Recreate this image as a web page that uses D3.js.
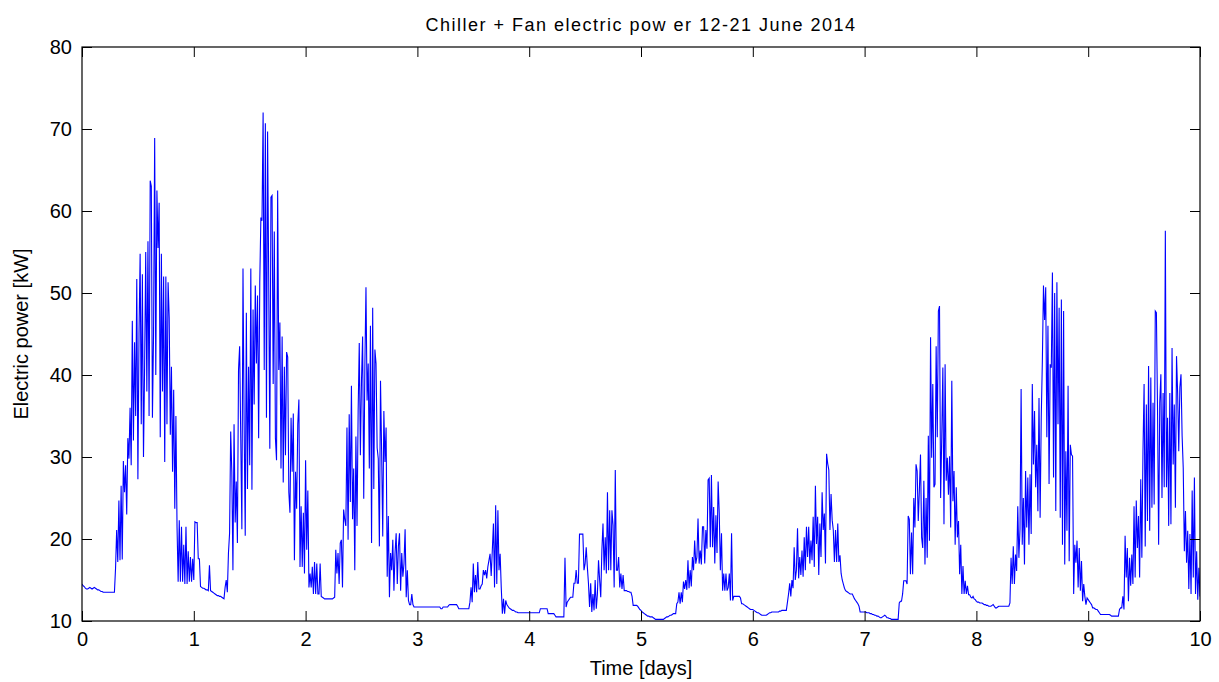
<!DOCTYPE html>
<html>
<head>
<meta charset="utf-8">
<script src="https://cdn.jsdelivr.net/npm/d3@7"></script>
<style>
  html, body { margin: 0; padding: 0; background: #fff; }
  svg { display: block; }
  text { font-family: "Liberation Sans", Arial, Helvetica, sans-serif; fill: #000; }
</style>
</head>
<body>
<svg id="chart" width="1219" height="682"></svg>
<script>
// ---------------- data ----------------
const titleText = "Chiller + Fan electric pow er 12-21 June 2014";
const xLabelText = "Time [days]";
const yLabelText = "Electric power [kW]";
const xTicks = [0, 1, 2, 3, 4, 5, 6, 7, 8, 9, 10];
const yTicks = [10, 20, 30, 40, 50, 60, 70, 80];
const samplesPerDay = 100;   // one sample every 0.01 day

const day0 = [14.5,14.3,14.2,14.0,13.9,13.9,14.0,14.1,14.0,13.9,
14.0,14.1,14.0,13.9,13.8,13.8,13.7,13.6,13.6,13.5,
13.5,13.5,13.5,13.5,13.5,13.5,13.5,13.5,13.5,13.5,
16.4,21.1,17.2,24.7,17.4,26.5,17.5,29.5,25.7,29,
23,32.3,29.8,36,29,46.6,32,44,35,51.7,
27.3,45,54.8,34,52.3,30,41,55,38,56.3,
35,63.7,63,34.8,45,68.9,40,62.5,55.5,61,
32.4,54.8,38,52,29.4,52,34,51.3,47,32.7,
41,28.2,38.2,23.7,35,21.5,14.8,22.3,14.8,21.5,
14.8,19.3,14.5,21.5,14.5,18.5,14.8,17.8,14.8,17.6];

const day1 = [15,22.1,22,22,17.6,17.6,14.2,14.1,14.0,14.0,
13.9,13.8,13.8,13.7,16.8,13.7,13.6,13.5,13.4,13.3,
13.2,13.1,13.1,13.0,13.0,12.9,12.8,12.7,14.1,15.0,
13.5,18.3,20.7,33.1,28.2,16.2,34,22,27,19.5,
40.6,43.5,32.3,21.2,53,34.4,20.4,47.6,26.1,41,
29,53,26,48,36.4,50.9,41.4,49.7,32.3,51.3,
59.2,58.8,72,40.6,70.7,34.8,69.7,51.7,31,61.7,
61.9,38.9,57.5,32.3,29.6,62.5,40.6,46.4,28.6,44.7,
26.9,41,30.2,42.8,42.2,25.7,23.2,34.8,28.2,35.3,
17.4,28.2,23.7,34,37,16.6,24,16.6,23.2,15.8];

const day2 = [29.6,18.7,25.9,14.1,15.8,14.1,16.6,13.3,17.2,13.3,
17,13.3,13.3,17,13.0,12.9,12.8,12.7,12.7,12.7,
12.7,12.7,12.7,12.7,12.7,12.8,12.9,18.7,15.8,18.3,
14.5,19.5,19.9,14.1,23.6,22.4,21.6,33.6,19.9,35.2,
24.5,38.7,22.4,28.6,16.2,32.5,21.6,35.6,43.9,30.2,
39.3,44.7,24.9,41,50.7,36.9,41.4,28.6,46,19.5,
48.2,26.1,43.1,41.4,31.1,29.8,19.1,39.3,30.7,20.3,
35.6,29.4,33.6,15.4,22.8,12.9,18.3,16.2,19.9,13.7,
18.3,20.7,14.5,19.1,20.7,13.7,18.3,15.4,17,21.2,
12.9,16.2,12.5,12,12,13.3,12,11.7,11.7,11.7];

const day3 = [11.7,11.7,11.7,11.7,11.7,11.7,11.7,11.7,11.7,11.7,
11.7,11.7,11.7,11.7,11.7,11.7,11.7,11.7,11.7,11.7,
11.7,11.5,11.5,11.7,11.7,11.7,11.7,11.7,11.9,12.0,
12.0,12.0,12.0,12.0,12.0,12.0,11.8,11.5,11.5,11.5,
11.5,11.5,11.5,11.5,11.5,11.5,11.5,12.3,14.1,12.3,
17,13.5,15.6,13.5,17.2,13.9,13.9,14.3,14.5,16.2,
15.6,16.2,15.2,16.6,17.4,18.2,15.5,18.6,21.9,14.1,
24.1,14.5,23.5,16.2,18.2,14.1,10.9,12.7,10.9,12.5,
12.0,11.8,11.6,11.5,11.4,11.3,11.3,11.2,11.1,11.1,
11.0,11.0,11.0,11.0,11.0,11.0,11.0,11.0,11.0,11.0];

const day4 = [11.0,11.0,11.0,11.0,11.0,11.0,11.0,11.0,11.0,11.0,
11.5,11.5,11.5,11.5,11.5,11.5,11.5,10.9,10.9,10.9,
10.9,10.9,10.9,10.7,10.5,10.5,10.5,10.5,10.5,10.5,
10.5,10.5,17.7,11.7,12.3,12.5,12.7,12.9,12.9,12.9,
14.6,14.6,16.2,14.6,14.6,20.6,20.6,20.6,20.6,16.2,
17.0,19.0,16.6,14.6,11.7,14.6,11.1,13.3,11.3,15,
11.5,13.3,17.4,15,12.9,18.6,21.9,16.2,20.2,15.8,
25.7,16.2,23.5,16.2,23.5,21.7,14.1,28.4,16.2,16.2,
17.8,14.1,15.8,13.9,15.6,13.7,13.7,13.7,13.6,13.6,
13.5,13.5,13.0,11.9,11.9,11.9,11.9,11.8,11.6,11.4];

const day5 = [11.3,11.1,11.0,10.9,10.8,10.7,10.6,10.6,10.5,10.5,
10.5,10.4,10.3,10.2,10.2,10.2,10.2,10.2,10.2,10.2,
10.2,10.3,10.4,10.5,10.5,10.6,10.7,10.7,10.8,10.9,
10.9,10.9,12.1,12.3,13.5,12.1,13.5,12.3,14.8,13.9,
15.0,13.8,17.4,14.0,16.2,14.2,17.8,16.2,19.8,17,
17.8,22.5,17,18.6,16.9,21.5,21.5,17,21.1,18.8,
27.2,27.4,19,27.8,19,23.9,17,22.9,18.3,27,
23.1,16.2,20.7,13.7,15.8,13.7,15.8,13.7,14.1,15.8,
12.5,20.7,12.5,13,13,13,13,13,13,12.8,
12.1,12.1,12.0,11.9,11.8,11.7,11.6,11.5,11.4,11.4];

const day6 = [11.4,11.3,11.2,11.1,11.0,11.0,10.9,10.8,10.7,10.7,
10.7,10.7,10.7,10.8,10.9,11.0,11.0,11.1,11.1,11.1,
11.1,11.1,11.1,11.1,11.2,11.2,11.3,11.3,11.3,11.3,
11.3,12.3,13.3,14.6,13.0,15,14,19,15,16.2,
21.3,15.2,17.8,15.6,18.6,15.4,20.2,16.2,21.5,17.8,
21.5,17,19.8,17.4,22.7,16.6,26.5,19.4,22.7,15.6,
21.9,17.8,25.7,21.1,23.1,17,30.4,29.2,28.4,21.1,
25.5,22.3,21.1,17.2,21.1,17.2,21.9,17.2,18,15.8,
15,14.5,14,13.7,13.6,13.5,13.4,13.3,13.3,13.3,
13.0,12.7,12.5,12.3,12.1,11.8,11.1,11.1,11.1,11.1];

const day7 = [11.1,11.1,11.0,11.0,11.0,10.9,10.9,10.8,10.8,10.7,
10.7,10.6,10.6,10.5,10.4,10.4,10.5,10.6,10.7,10.6,
10.4,10.4,10.3,10.3,10.2,10.2,10.2,10.2,10.2,10.2,
10.2,12.2,12.4,12.4,13.3,14.9,14.9,14.9,14.5,22.8,
22.4,15.7,20.8,15.7,25,21.4,29.1,28.3,22.2,26,
30.3,20.2,18.9,27.1,16.9,25,17.7,32.6,19.8,44.6,
29.9,38.9,26.3,26.7,43.5,32.4,47.8,48.4,25,32.4,
40.9,21.8,41.3,27.1,29.9,25.4,30.1,21.4,39.3,24.6,
28.3,19.3,26.3,20.2,22.2,15.7,19.3,13.3,16.7,13.3,
14.9,13.3,14.3,13.2,13.2,12.9,12.8,13,12.7,12.6];

const day8 = [12.4,12.3,12.3,12.2,12.2,12.2,12.1,12.0,12.0,11.9,
11.9,11.8,11.8,11.8,11.9,12.0,11.8,11.6,11.6,11.7,
11.8,11.8,11.8,11.8,11.8,11.8,11.8,11.8,11.8,11.8,
12.2,17.7,14.5,19.1,14.5,18.1,16.1,24,17.7,21.2,
38.3,19.3,25,16.9,28.3,21.4,27.5,19.3,27.9,20.6,
38.9,29.1,35.6,26.3,31.5,23.4,37.2,22.6,34.8,41.7,
50.9,46.7,50.7,32.4,46,26.7,41.3,40.9,52.5,27.5,
50,23.4,51.3,34,48.2,22.6,49.2,19.3,47.8,16.9,
30.7,21,38.7,17.3,31.5,30.3,30.1,13.3,19.3,17.1,
19.8,14.1,18.9,13.7,17.3,12.4,14.5,13,12,12.8];

const day9 = [12.6,12.4,12.2,12.0,11.6,11.6,11.5,11.4,11.4,11.2,
11.0,10.8,10.8,10.8,10.8,10.8,10.8,10.8,10.8,10.8,
10.7,10.6,10.6,10.6,10.6,10.6,10.6,10.6,11.4,11.6,
11.6,13,11.4,20.4,15.3,18.9,12.4,17.7,14.3,18.1,
14.5,24,15.3,24.7,18.9,22.8,15.3,27.3,17.7,30.7,
38.9,19.1,36.4,22.2,41.1,21,39.7,23.8,36.6,24.2,
47.8,47.6,36,19.3,36.6,40.1,25,37.8,26.3,57.6,
26.3,34.8,21.6,37.8,21.8,43.3,29.1,36.4,23.8,42.3,
37.8,30.7,38.5,40.1,32.6,28.7,18.5,23.4,17.1,21,
13.9,20.6,13.3,25.9,15.3,27.5,13.3,18.5,12.6,16.5];

const finalValue = 13.0;   // sample at t = 10.00

// ---------------- build series ----------------
const dayArrays = [day0, day1, day2, day3, day4, day5, day6, day7, day8, day9];
const series = [];
dayArrays.forEach((arr, d) => {
  arr.forEach((v, i) => series.push({ t: d + i / samplesPerDay, v: v }));
});
series.push({ t: dayArrays.length, v: finalValue });

// ---------------- layout ----------------
const W = 1219, H = 682;
const plot = { left: 82, right: 1200, top: 47, bottom: 621 };

const svg = d3.select("#chart");
svg.append("rect").attr("width", W).attr("height", H).attr("fill", "#fff");

const x = d3.scaleLinear().domain([0, 10]).range([plot.left, plot.right]);
const y = d3.scaleLinear().domain([10, 80]).range([plot.bottom, plot.top]);

// data line
svg.append("clipPath").attr("id", "clip")
  .append("rect")
  .attr("x", plot.left).attr("y", plot.top)
  .attr("width", plot.right - plot.left).attr("height", plot.bottom - plot.top);

const line = d3.line().x(d => x(d.t)).y(d => y(d.v));
svg.append("path")
  .datum(series)
  .attr("clip-path", "url(#clip)")
  .attr("fill", "none")
  .attr("stroke", "#0000ff")
  .attr("stroke-width", 1.1)
  .attr("stroke-linejoin", "miter")
  .attr("d", line);

// axes (ticks pointing inward, MATLAB style box)
const tickLen = 10;
const fontSize = 20;

const gB = svg.append("g").attr("transform", `translate(0,${plot.bottom})`)
  .call(d3.axisBottom(x).tickValues(xTicks).tickFormat(d3.format("d"))
    .tickSizeInner(-tickLen).tickSizeOuter(0).tickPadding(11));
const gT = svg.append("g").attr("transform", `translate(0,${plot.top})`)
  .call(d3.axisTop(x).tickValues(xTicks).tickFormat("")
    .tickSizeInner(-tickLen).tickSizeOuter(0));
const gL = svg.append("g").attr("transform", `translate(${plot.left},0)`)
  .call(d3.axisLeft(y).tickValues(yTicks).tickFormat(d3.format("d"))
    .tickSizeInner(-tickLen).tickSizeOuter(0).tickPadding(10));
const gR = svg.append("g").attr("transform", `translate(${plot.right},0)`)
  .call(d3.axisRight(y).tickValues(yTicks).tickFormat("")
    .tickSizeInner(-tickLen).tickSizeOuter(0));

[gB, gT, gL, gR].forEach(g => {
  g.selectAll(".domain").remove();
  g.selectAll(".tick line").attr("stroke", "#000").attr("stroke-width", 1);
  g.selectAll("text")
    .attr("fill", "#000")
    .style("font-size", fontSize + "px")
    .style("font-family", '"Liberation Sans", Arial, Helvetica, sans-serif');
});

// box
svg.append("rect")
  .attr("x", plot.left).attr("y", plot.top)
  .attr("width", plot.right - plot.left).attr("height", plot.bottom - plot.top)
  .attr("fill", "none").attr("stroke", "#000").attr("stroke-width", 1.2);

// title and labels
svg.append("text")
  .attr("x", (plot.left + plot.right) / 2).attr("y", 31)
  .attr("text-anchor", "middle")
  .style("font-size", "18px")
  .style("letter-spacing", "1.5px")
  .text(titleText);

svg.append("text")
  .attr("x", (plot.left + plot.right) / 2).attr("y", 675)
  .attr("text-anchor", "middle")
  .style("font-size", fontSize + "px")
  .text(xLabelText);

svg.append("text")
  .attr("transform", `translate(28,${(plot.top + plot.bottom) / 2}) rotate(-90)`)
  .attr("text-anchor", "middle")
  .style("font-size", fontSize + "px")
  .text(yLabelText);
</script>
</body>
</html>
